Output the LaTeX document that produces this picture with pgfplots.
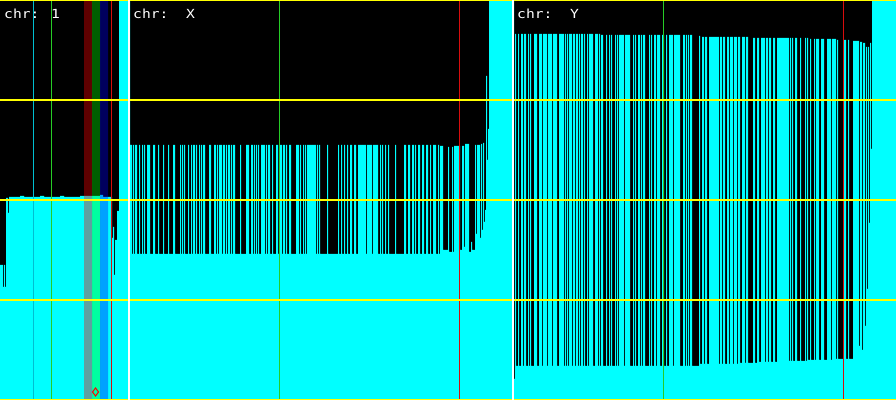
\documentclass[border=0pt]{standalone}
\usepackage{pgfplots}
\pgfplotsset{compat=1.18}
\usepackage{fontspec}
\newfontfamily\chrfont[FakeStretch=1.17]{DejaVu Sans Mono}
\definecolor{fillcyan}{rgb}{0,1,1}
\definecolor{gridgreen}{rgb}{0.15,0.8,0.15}
\definecolor{gridred}{rgb}{0.85,0.05,0.05}
\definecolor{gridteal}{rgb}{0,0.75,0.82}
\definecolor{hlyellow}{rgb}{1,1,0}
\definecolor{bandred}{rgb}{1,0,0}
\definecolor{bandgreen}{rgb}{0,1,0}
\definecolor{bandblue}{rgb}{0,0,1}
\definecolor{markred}{rgb}{1,0,0}
\begin{document}
\begin{tikzpicture}
\begin{axis}[
  width=896bp, height=400bp, scale only axis,
  xmin=0, xmax=896, ymin=0, ymax=400,
  axis line style={draw=none}, ticks=none,
  axis background/.style={fill=black},
  clip=true,
]
% coverage (height = 400 - pixel row of the cyan top)
\addplot[const plot, fill=fillcyan, draw=none] coordinates {
(0,135)(3,113)(4,135)(5,113)(6,202)(8,187)(9,203)(20,204)(24,203)(40,204)(44,203)(60,204)(64,203)(80,204)(100,205)(103,203)
(108,203)(112,162)(113,173)(114,125)(115,160)(117,189)(119,400)
(130,255)(132,146)(133,255)(134,146)(135,255)(137,146)(139,255)(140,146)(142,255)(143,146)(144,255)(145,146)(147,255)(150,146)(153,255)(155,146)(158,255)(159,146)(163,255)(164,146)(168,255)(169,146)(173,255)(175,146)(180,255)(181,146)(182,255)(183,146)(184,255)(185,146)(188,255)(189,146)(191,255)(192,146)(193,255)(195,146)(196,255)(197,146)(199,255)(200,146)(201,255)(202,146)(203,255)(205,146)(209,255)(211,146)(214,255)(216,146)(217,255)(218,146)(219,255)(222,146)(223,255)(225,146)(226,255)(227,146)(228,255)(230,146)(231,255)(232,146)(233,255)(235,146)(240,255)(241,146)(246,255)(249,146)(251,255)(253,146)(254,255)(255,146)(256,255)(257,146)(258,255)(259,146)(261,255)(265,146)(266,255)(267,146)(268,255)(270,146)(272,255)(273,146)(276,255)(278,146)(280,255)(282,146)(283,255)(285,146)(286,255)(287,146)(289,255)(291,146)(296,255)(299,146)(300,255)(301,146)(303,255)(304,146)(305,255)(306,146)(307,255)(316,146)(317,255)(318,146)(319,255)(320,146)
(327,255)(328,146)(338,255)(339,146)(341,255)(342,146)(344,255)(345,146)(347,255)(348,146)(350,255)(352,146)(354,255)(356,146)(358,255)(366,146)(367,255)(372,146)(373,255)(378,146)(380,255)(381,146)(382,255)(383,146)(385,255)(386,146)(388,255)(389,146)(395,255)(396,146)(404,255)(406,146)(408,255)(410,146)(412,255)(414,146)(415,255)(416,146)(418,255)(420,146)(422,255)(424,146)(426,255)(428,146)(430,255)(431,146)(433,255)(436,146)(438,255)(439,146)
(440,254)(443,150)(448,253)(449,148)(452,253)(453,148)(454,254)(460,150)(462,254)(464,153)(465,256)(469,148)(471,158)(472,150)(475,255)(476,166)(477,255)(480,162)(481,256)(482,170)(483,257)(484,178)(485,190)(486,324)(487,240)(488,271)(489,400)
(514,21)(515,366)(516,34)(518,366)(519,34)(521,366)(523,34)(524,366)(526,34)(528,366)(529,34)(530,366)(531,34)(534,366)(537,34)(539,366)(542,34)(543,366)(547,34)(548,366)(552,34)(553,366)(557,34)(559,366)(564,34)(565,366)(566,34)(567,366)(568,34)(569,366)(572,34)(573,366)(575,34)(576,366)(578,34)(579,366)(580,34)(581,366)(583,34)(584,366)(585,34)(587,366)(588,34)(589,366)(593,34)(595,366)(598,34)(599,366)
(600,34)(601,365)(603,34)(606,365)(607,34)(609,365)(610,34)(611,365)(612,34)(615,365)(616,34)(617,365)(618,34)(619,365)(624,34)(625,365)(630,34)(633,365)(634,34)(635,365)(636,34)(638,365)(640,34)(641,365)(642,34)(643,365)(645,34)(649,365)(650,34)(651,365)(652,34)(654,365)(656,34)(657,365)(660,34)(662,365)(664,34)(666,365)(667,34)(669,365)(673,34)(674,365)(680,34)(683,365)(685,34)(686,365)(687,34)(688,365)(689,34)(690,365)(692,34)(699,364)
(700,36)(702,363)(704,36)(705,363)(707,36)(709,363)(719,36)(720,363)(722,36)(723,363)(725,36)(727,363)(729,36)(730,363)(733,36)(734,363)(737,36)(738,363)(740,37)(742,363)(745,37)(746,363)(748,37)(753,362)(755,37)(757,362)(759,38)(761,362)(765,38)(766,362)(768,38)(769,362)(771,38)(773,362)(775,38)(777,362)
(789,39)(790,362)(791,39)(792,362)(793,39)(795,362)(797,39)(800,362)(801,39)(805,362)(806,39)(807,362)(808,40)(810,361)(811,40)(814,361)(815,40)(816,361)(819,40)(821,361)(824,40)(827,361)(831,40)(832,361)(836,41)(837,360)(838,41)(844,360)(846,41)(848,360)(849,41)(853,359)(859,54)(860,358)(862,50)(863,357)(865,74)(866,353)(867,111)(868,353)(869,177)(870,357)(871,251)(872,400)(896,400)
} \closedcycle;
% highlighted regions
\addplot[draw=none, fill=bandred, fill opacity=0.37] coordinates {(84,0)(84,400)(92,400)(92,0)} \closedcycle;
\addplot[draw=none, fill=bandgreen, fill opacity=0.37] coordinates {(92,0)(92,400)(100,400)(100,0)} \closedcycle;
\addplot[draw=none, fill=bandblue, fill opacity=0.37] coordinates {(100,0)(100,400)(108,400)(108,0)} \closedcycle;
% vertical markers
\addplot[gridteal, line width=1bp] coordinates {(33.5,0)(33.5,400)};
\addplot[gridgreen, line width=1bp] coordinates {(51.5,0)(51.5,400)};
\addplot[gridred, line width=1bp] coordinates {(111.5,0)(111.5,400)};
\addplot[gridgreen, line width=1bp] coordinates {(279.5,0)(279.5,400)};
\addplot[gridred, line width=1bp] coordinates {(459.5,0)(459.5,400)};
\addplot[gridgreen, line width=1bp] coordinates {(663.5,0)(663.5,400)};
\addplot[gridred, line width=1bp] coordinates {(843.5,0)(843.5,400)};
% horizontal guide lines
\addplot[hlyellow, line width=1.2bp] coordinates {(0,399.4)(896,399.4)};
\addplot[hlyellow, line width=1.2bp] coordinates {(0,300)(896,300)};
\addplot[hlyellow, line width=1.2bp] coordinates {(0,200)(896,200)};
\addplot[hlyellow, line width=1.2bp] coordinates {(0,100)(896,100)};
\addplot[hlyellow, line width=1.2bp] coordinates {(0,0.6)(896,0.6)};
% panel separators
\addplot[white, line width=2bp] coordinates {(129,0)(129,400)};
\addplot[white, line width=1.5bp] coordinates {(512.75,0)(512.75,400)};
% marker
\addplot[only marks, mark=diamond, mark size=4bp, markred, mark options={line width=1bp, fill=none}] coordinates {(95.5,8)};
% panel labels
\node[anchor=base west, inner sep=0pt, text=white, font=\chrfont\fontsize{12.5bp}{14bp}\selectfont] at (axis cs:4,382) {chr: 1};
\node[anchor=base west, inner sep=0pt, text=white, font=\chrfont\fontsize{12.5bp}{14bp}\selectfont] at (axis cs:133,382) {chr:\ \ X};
\node[anchor=base west, inner sep=0pt, text=white, font=\chrfont\fontsize{12.5bp}{14bp}\selectfont] at (axis cs:517,382) {chr:\ \ Y};
\end{axis}
\end{tikzpicture}
\end{document}
